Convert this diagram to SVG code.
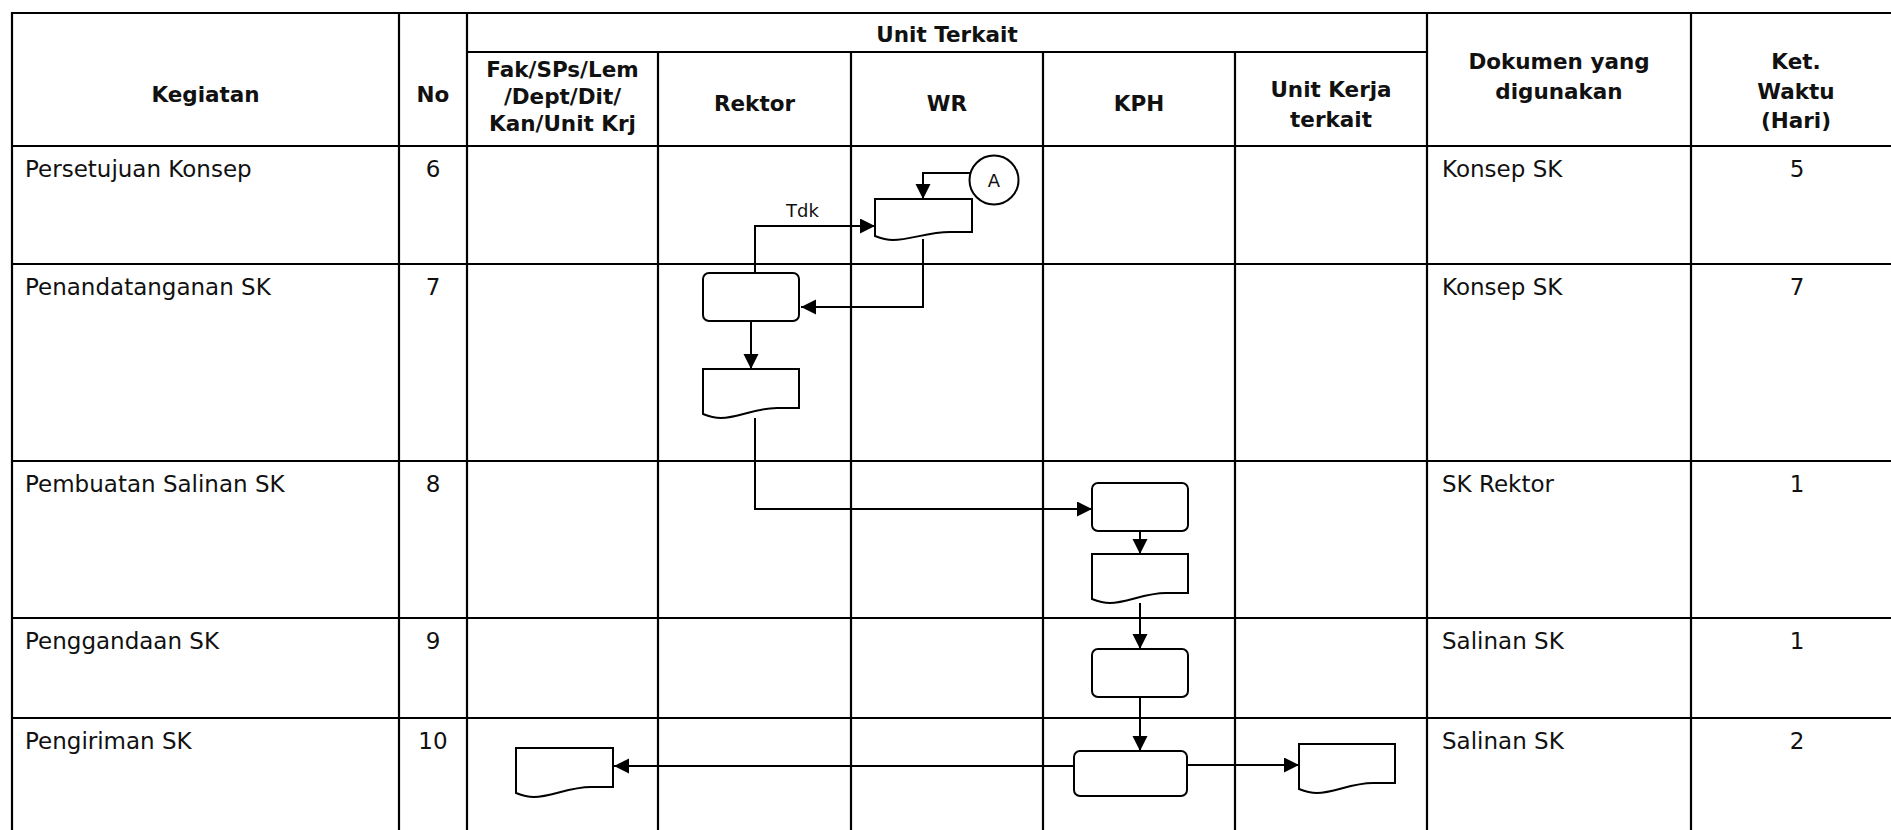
<svg xmlns="http://www.w3.org/2000/svg" width="1891" height="830" viewBox="0 0 1891 830">
<style>
.bg{fill:#fff}
.grid line{stroke:#000;stroke-width:2.2}
.hd{font-family:"DejaVu Sans",sans-serif;font-weight:bold;font-size:21.5px;fill:#111;text-anchor:middle}
.tx{font-family:"DejaVu Sans",sans-serif;font-size:23px;fill:#111}
.c{text-anchor:middle}
.shape{fill:#fff;stroke:#000;stroke-width:2}
.lbl{font-family:"DejaVu Sans",sans-serif;font-size:18px;fill:#111}
.conn path{fill:none;stroke:#000;stroke-width:2;marker-end:url(#arr)}
</style>
<defs>
<marker id="arr" markerUnits="userSpaceOnUse" markerWidth="16" markerHeight="16" refX="15" refY="7.5" orient="auto">
<path d="M0,0 L15,7.5 L0,15 Z" fill="#000"/>
</marker>
</defs>
<rect class="bg" x="0" y="0" width="1891" height="830"/>
<g id="grid" class="grid">
<line x1="11" y1="13" x2="1891" y2="13"/>
<line x1="467" y1="52" x2="1427" y2="52"/>
<line x1="11" y1="146" x2="1891" y2="146"/>
<line x1="11" y1="264" x2="1891" y2="264"/>
<line x1="11" y1="461" x2="1891" y2="461"/>
<line x1="11" y1="618" x2="1891" y2="618"/>
<line x1="11" y1="718" x2="1891" y2="718"/>
<line x1="12" y1="12" x2="12" y2="830"/>
<line x1="399" y1="12" x2="399" y2="830"/>
<line x1="467" y1="12" x2="467" y2="830"/>
<line x1="1427" y1="12" x2="1427" y2="830"/>
<line x1="1691" y1="12" x2="1691" y2="830"/>
<line x1="658" y1="52" x2="658" y2="830"/>
<line x1="851" y1="52" x2="851" y2="830"/>
<line x1="1043" y1="52" x2="1043" y2="830"/>
<line x1="1235" y1="52" x2="1235" y2="830"/>
</g>
<g id="header">
<text class="hd" x="205.5" y="102">Kegiatan</text>
<text class="hd" x="433" y="102">No</text>
<text class="hd" x="947" y="42">Unit Terkait</text>
<text class="hd" x="562.5" y="77">Fak/SPs/Lem</text>
<text class="hd" x="562.5" y="104">/Dept/Dit/</text>
<text class="hd" x="562.5" y="131">Kan/Unit Krj</text>
<text class="hd" x="754.5" y="111">Rektor</text>
<text class="hd" x="947" y="111">WR</text>
<text class="hd" x="1139" y="111">KPH</text>
<text class="hd" x="1331" y="97">Unit Kerja</text>
<text class="hd" x="1331" y="127">terkait</text>
<text class="hd" x="1559" y="69">Dokumen yang</text>
<text class="hd" x="1559" y="99">digunakan</text>
<text class="hd" x="1796" y="69">Ket.</text>
<text class="hd" x="1796" y="99">Waktu</text>
<text class="hd" x="1796" y="128">(Hari)</text>
</g>
<g id="rows">
<text class="tx" x="25" y="177">Persetujuan Konsep</text>
<text class="tx c" x="433" y="177">6</text>
<text class="tx" x="1442" y="177">Konsep SK</text>
<text class="tx c" x="1797" y="177">5</text>
<text class="tx" x="25" y="295">Penandatanganan SK</text>
<text class="tx c" x="433" y="295">7</text>
<text class="tx" x="1442" y="295">Konsep SK</text>
<text class="tx c" x="1797" y="295">7</text>
<text class="tx" x="25" y="492">Pembuatan Salinan SK</text>
<text class="tx c" x="433" y="492">8</text>
<text class="tx" x="1442" y="492">SK Rektor</text>
<text class="tx c" x="1797" y="492">1</text>
<text class="tx" x="25" y="649">Penggandaan SK</text>
<text class="tx c" x="433" y="649">9</text>
<text class="tx" x="1442" y="649">Salinan SK</text>
<text class="tx c" x="1797" y="649">1</text>
<text class="tx" x="25" y="749">Pengiriman SK</text>
<text class="tx c" x="433" y="749">10</text>
<text class="tx" x="1442" y="749">Salinan SK</text>
<text class="tx c" x="1797" y="749">2</text>
</g>
<g id="conn" class="conn">
<path d="M970,173 H923 V199"/>
<path d="M923,239 V307 H801"/>
<path d="M755,273 V226 H875"/>
<path d="M751,321 V369"/>
<path d="M755,418 V509 H1092"/>
<path d="M1140,531 V554"/>
<path d="M1140,603 V649"/>
<path d="M1140,697 V751"/>
<path d="M1074,766 H614"/>
<path d="M1188,765 H1299"/>
</g>
<text class="lbl" x="786" y="217">Tdk</text>
<g id="nA"><circle class="shape" cx="994" cy="180" r="24.5"/><text class="lbl c" x="994" y="187">A</text></g>
<g id="nWRdoc"><path class="shape" d="M875,199 H972 V232 H950 C928,232 910,240 893,240 C885,240 880,238 875,236 Z"/></g>
<g id="nRektorProc"><rect class="shape" x="703" y="273" width="96" height="48" rx="6"/></g>
<g id="nRektorDoc"><path class="shape" d="M703,369 H799 V408 H777 C755,408 738,418 721,418 C713,418 708,416 703,414 Z"/></g>
<g id="nKPH1"><rect class="shape" x="1092" y="483" width="96" height="48" rx="6"/></g>
<g id="nKPHDoc"><path class="shape" d="M1092,554 H1188 V593 H1166 C1144,593 1127,603 1110,603 C1102,603 1097,601 1092,599 Z"/></g>
<g id="nKPH2"><rect class="shape" x="1092" y="649" width="96" height="48" rx="6"/></g>
<g id="nKPH3"><rect class="shape" x="1074" y="751" width="113" height="45" rx="6"/></g>
<g id="nFakDoc"><path class="shape" d="M516,748 H613 V787 H591 C569,787 551,797 534,797 C526,797 521,795 516,793 Z"/></g>
<g id="nUnitDoc"><path class="shape" d="M1299,744 H1395 V783 H1373 C1351,783 1334,793 1317,793 C1309,793 1304,791 1299,789 Z"/></g>
</svg>
